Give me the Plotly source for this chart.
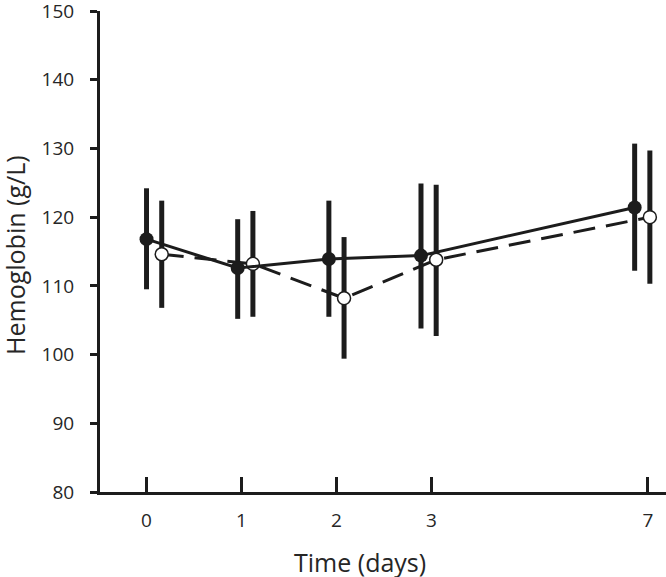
import plotly.graph_objects as go

# ---- data ----
day_labels = ["0", "1", "2", "3", "7"]
day_axis_pos = [0, 1, 2, 3, 5.28]          # non-linear day axis scale
group_pos = [0, 0.96, 1.92, 2.89, 5.14]    # plotted positions of the day groups
series_shift = 0.16                        # horizontal shift of second series

mean_a = [116.8, 112.6, 113.9, 114.4, 121.4]
upper_a = [124.2, 119.7, 122.4, 124.9, 130.7]
lower_a = [109.5, 105.2, 105.5, 103.8, 112.2]

mean_b = [114.6, 113.2, 108.2, 113.8, 120.0]
upper_b = [122.4, 120.9, 117.1, 124.7, 129.7]
lower_b = [106.8, 105.5, 99.4, 102.7, 110.3]

y_ticks = [80, 90, 100, 110, 120, 130, 140, 150]

INK = "#1c1c1c"
TXT = "#262626"
FONT = "Open Sans"

x_a = group_pos
x_b = [p + series_shift for p in group_pos]

fig = go.Figure()

fig.add_trace(go.Scatter(
    x=x_b, y=mean_b, mode="lines+markers", name="Group B",
    line=dict(color=INK, width=3, dash="22px,11px"),
    marker=dict(size=13, color="white", line=dict(color=INK, width=1.5)),
    error_y=dict(type="data", symmetric=False,
                 array=[u - m for u, m in zip(upper_b, mean_b)],
                 arrayminus=[m - l for m, l in zip(mean_b, lower_b)],
                 color=INK, thickness=5, width=0),
    cliponaxis=False,
))

fig.add_trace(go.Scatter(
    x=x_a, y=mean_a, mode="lines+markers", name="Group A",
    line=dict(color=INK, width=3),
    marker=dict(size=14, color=INK, line=dict(color=INK, width=0)),
    error_y=dict(type="data", symmetric=False,
                 array=[u - m for u, m in zip(upper_a, mean_a)],
                 arrayminus=[m - l for m, l in zip(mean_a, lower_a)],
                 color=INK, thickness=5, width=0),
    cliponaxis=False,
))

fig.update_layout(
    width=666, height=577,
    margin=dict(l=100, r=0, t=11, b=85),
    paper_bgcolor="white", plot_bgcolor="white",
    showlegend=False,
    font=dict(family=FONT, color=TXT, size=19),
    xaxis=dict(
        range=[-0.49, 5.47], automargin=False,
        tickmode="array", tickvals=day_axis_pos, ticktext=day_labels,
        ticks="inside", ticklen=15, tickwidth=2.5, tickcolor=INK,
        showline=True, linecolor=INK, linewidth=3,
        showgrid=False, zeroline=False,
        tickfont=dict(size=19, family=FONT, color=TXT),
        ticklabelstandoff=9, ticklabeloverflow="allow",
    ),
    yaxis=dict(
        range=[80, 150], automargin=False,
        tickmode="array", tickvals=y_ticks,
        ticks="outside", ticklen=7, tickwidth=2.5, tickcolor=INK,
        showline=True, linecolor=INK, linewidth=3,
        showgrid=False, zeroline=False,
        tickfont=dict(size=19, family=FONT, color=TXT),
        ticklabelstandoff=12, ticklabeloverflow="allow",
    ),
    annotations=[
        dict(text="Time (days)", xref="paper", yref="paper",
             x=0.459, y=-0.146, xanchor="center", yanchor="middle",
             showarrow=False, font=dict(size=25, family=FONT, color=TXT)),
        dict(text="Hemoglobin (g/L)", xref="paper", yref="paper",
             x=-0.150, y=0.493, xanchor="center", yanchor="middle",
             textangle=-90, showarrow=False,
             font=dict(size=25, family=FONT, color=TXT)),
    ],
)

fig.write_html(
    "out.html",
    config={"displayModeBar": False},
    post_script="document.body.style.margin='0';document.body.style.overflow='hidden';",
)
